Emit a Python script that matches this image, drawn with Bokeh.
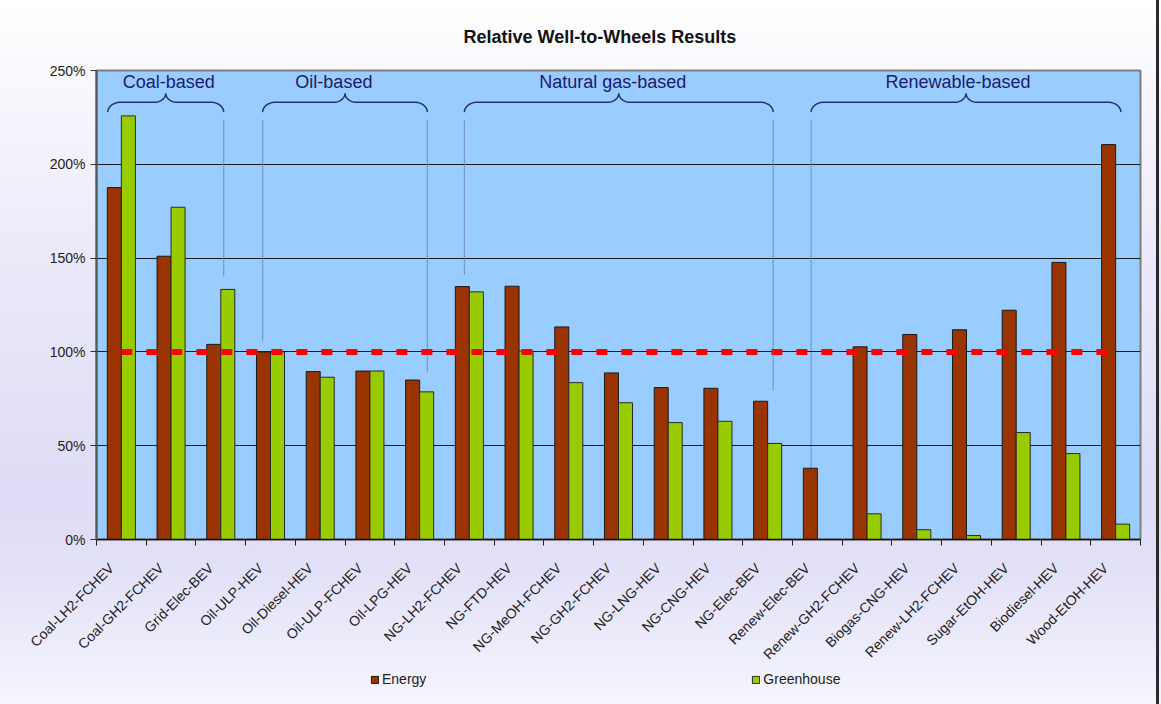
import numpy as np
from bokeh.plotting import figure
from bokeh.layouts import column
from bokeh.models import (Range1d, FixedTicker, PrintfTickFormatter, Legend,
                          LegendItem, ColumnDataSource)
from bokeh.transform import dodge
from bokeh.core.properties import value
from bokeh.embed import file_html
from bokeh.resources import INLINE

# ---------------- data ----------------
categories = [
    "Coal-LH2-FCHEV", "Coal-GH2-FCHEV", "Grid-Elec-BEV", "Oil-ULP-HEV",
    "Oil-Diesel-HEV", "Oil-ULP-FCHEV", "Oil-LPG-HEV", "NG-LH2-FCHEV",
    "NG-FTD-HEV", "NG-MeOH-FCHEV", "NG-GH2-FCHEV", "NG-LNG-HEV",
    "NG-CNG-HEV", "NG-Elec-BEV", "Renew-Elec-BEV", "Renew-GH2-FCHEV",
    "Biogas-CNG-HEV", "Renew-LH2-FCHEV", "Sugar-EtOH-HEV", "Biodiesel-HEV",
    "Wood-EtOH-HEV",
]
energy = [187.6, 151.0, 104.0, 100.0, 89.5, 89.8, 85.0, 134.8, 135.0, 113.3,
          88.8, 81.0, 80.6, 73.7, 38.0, 102.7, 109.3, 111.8, 122.2, 147.7, 210.5]
greenhouse = [225.8, 177.1, 133.3, 100.0, 86.5, 89.8, 78.7, 132.0, 100.5, 83.6,
              72.9, 62.3, 63.0, 51.2, 0.0, 13.7, 5.2, 2.1, 57.0, 45.8, 8.2]
series_names = ["Energy", "Greenhouse"]
group_names = ["Coal-based", "Oil-based", "Natural gas-based", "Renewable-based"]
y_ticks = [0, 50, 100, 150, 200, 250]
reference_level = 100
title_text = "Relative Well-to-Wheels Results"

FONT = "Liberation Sans"
ENERGY_COLOR = "#993300"
GHG_COLOR = "#99cc00"
n = len(categories)
centers = np.arange(n) + 0.5

p = figure(frame_width=1044, frame_height=469, x_range=Range1d(0, n), y_range=Range1d(0, 250),
           output_backend="svg", toolbar_location=None,
           min_border_left=96, min_border_right=21, min_border_top=70,
           min_border_bottom=128)

# title
p.title.text = title_text
p.title.text_font = FONT
p.title.text_font_size = "18px"
p.title.text_font_style = "bold"
p.title.text_color = "#111111"
p.title.align = "left"
p.title.offset = 367
p.title.standoff = 48

# background
p.background_fill_color = "#99ccff"
p.border_fill_alpha = 0
p.outline_line_color = "#7f7f7f"
p.outline_line_width = 2

# grid
p.xgrid.visible = False
p.ygrid.ticker = FixedTicker(ticks=y_ticks)
p.ygrid.grid_line_color = "#1a1a1a"
p.ygrid.grid_line_width = 1

# y axis
p.yaxis.ticker = FixedTicker(ticks=y_ticks)
p.yaxis.formatter = PrintfTickFormatter(format="%d%%")
p.yaxis.major_label_text_font = FONT
p.yaxis.major_label_text_font_size = "14px"
p.yaxis.major_label_text_color = "#222222"
p.yaxis.major_tick_out = 6
p.yaxis.major_tick_in = 0
p.yaxis.minor_tick_line_color = None
p.yaxis.axis_line_color = "#555555"
p.yaxis.axis_line_width = 2
p.yaxis.major_tick_line_color = "#333333"
p.yaxis.major_label_standoff = 5

# x axis: labels anchored slightly left of each category centre (as in the original),
# tick marks at the category boundaries
label_pos = centers - 0.2
p.xaxis.ticker = FixedTicker(ticks=list(label_pos), minor_ticks=list(range(n + 1)))
p.xaxis.major_label_overrides = {float(c): lab for c, lab in zip(label_pos, categories)}
p.xaxis.major_label_orientation = np.pi / 4
p.xaxis.major_label_text_font = FONT
p.xaxis.major_label_text_font_size = "14px"
p.xaxis.major_label_text_color = "#222222"
p.xaxis.major_tick_line_color = None
p.xaxis.major_tick_out = 6
p.xaxis.major_tick_in = 0
p.xaxis.major_label_standoff = 20
p.xaxis.minor_tick_out = 6
p.xaxis.minor_tick_in = 0
p.xaxis.minor_tick_line_color = "#222222"
p.xaxis.axis_line_color = "#111111"
p.xaxis.axis_line_width = 1.5

# bars
src = ColumnDataSource(dict(x=centers, cat=categories, energy=energy, greenhouse=greenhouse))
bw = 0.282
r1 = p.vbar(x=dodge("x", -bw / 2), top="energy", width=bw, source=src,
            fill_color=ENERGY_COLOR, line_color="#1a1a1a", line_width=1)
r2 = p.vbar(x=dodge("x", bw / 2), top="greenhouse", width=bw, source=src,
            fill_color=GHG_COLOR, line_color="#2a2a2a", line_width=1)

# reference line
p.line(x=[centers[0], centers[-1]], y=[reference_level, reference_level],
       line_color="#ff0000", line_width=6, line_dash="11 14")

# group separators (dotted)
sep_x = [2.558, 3.342, 6.656, 7.401, 13.611, 14.375]
sep_bottom = [140.6, 106.0, 89.0, 141.0, 79.4, 38.5]
p.segment(x0=sep_x, y0=[223.5] * len(sep_x), x1=sep_x, y1=sep_bottom,
          line_color="#4d6a9c", line_width=1.2, line_dash="1 1")

# braces
sx = 1044.0 / n
def brace_path(x0, x1):
    r = 13 / sx
    r2 = 11 / sx
    ye, ym, yt = 227.8, 233.1, 237.9
    xc = (x0 + x1) / 2
    t = np.linspace(0, np.pi / 2, 14)
    lx = x0 + r * (1 - np.cos(t)); ly = ye + (ym - ye) * np.sin(t)
    cx = xc - r2 + r2 * np.sin(t); cy = ym + (yt - ym) * (1 - np.cos(t))
    tr = t[::-1]
    dx = xc + r2 - r2 * np.sin(tr); dy = ym + (yt - ym) * (1 - np.cos(tr))
    rx = x1 - r * (1 - np.cos(tr)); ry = ye + (ym - ye) * np.sin(tr)
    return (list(np.concatenate([lx, cx, dx, rx])), list(np.concatenate([ly, cy, dy, ry])))

spans = [(0.227, 2.558), (3.342, 6.656), (7.401, 13.611), (14.375, 20.605)]
bx, by = zip(*[brace_path(a, b) for a, b in spans])
p.multi_line(xs=list(bx), ys=list(by), line_color="#25356b", line_width=1.5)

p.text(x=[1.453, 4.775, 10.386, 17.329], y=[244] * 4, text=group_names,
       text_font=value(FONT), text_font_size="18px", text_color="#1b1b70",
       text_align="center", text_baseline="middle")

# ---------------- legend strip (separate figure below the chart) ----------------
# The same series are drawn there far outside the visible y-range, only to feed the legend.
leg_h = 704 - (70 + 469 + 129)
p2 = figure(width=1161, height=leg_h, x_range=p.x_range, y_range=Range1d(1e6, 1e6 + 1),
            output_backend="svg", toolbar_location=None, min_border=0,
            x_axis_location=None, y_axis_location=None)
p2.grid.visible = False
p2.outline_line_color = None
p2.background_fill_alpha = 0
p2.border_fill_alpha = 0
e1 = p2.vbar(x=dodge("x", -bw / 2), top="energy", width=bw, source=src,
             fill_color=ENERGY_COLOR, line_color="#1a1a1a", line_width=1)
e2 = p2.vbar(x=dodge("x", bw / 2), top="greenhouse", width=bw, source=src,
             fill_color=GHG_COLOR, line_color="#2a2a2a", line_width=1)
legend = Legend(items=[LegendItem(label=series_names[0], renderers=[e1]),
                       LegendItem(label=series_names[1], renderers=[e2])],
                orientation="horizontal", spacing=325, glyph_width=9, glyph_height=9,
                label_text_font=FONT, label_text_font_size="14px", label_height=12,
                label_text_color="#222222", label_standoff=3,
                border_line_color=None, background_fill_alpha=0,
                padding=0, margin=0, location=(274, 20))
p2.add_layout(legend, "center")

layout = column(p, p2, spacing=0,
                styles={"background": "linear-gradient(to right, rgba(0,0,0,0) 1156px, #2a2a2a 1156px, #2a2a2a 1159px, rgba(0,0,0,0) 1159px), "
                                      "linear-gradient(to bottom, #ffffff 0%, #fbfbfe 6%, #eceaf9 35%, #dedcf6 70%, #e4e2f8 82%, #f6f6fd 100%)"})

open("out.html", "w").write(file_html(layout, INLINE))
